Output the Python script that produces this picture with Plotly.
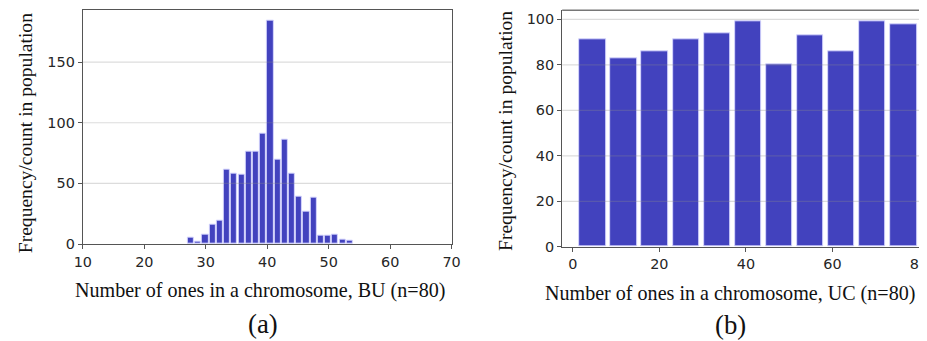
import plotly.graph_objects as go

# ---------------- data ----------------
bu_counts = [5, 2, 8, 16, 19, 61, 58, 57, 76, 76, 91, 184, 70, 86, 58, 39, 27, 38, 7, 7, 8, 4, 3]
bu_min, bu_max = 27, 54          # histogram data range (BU)
uc_counts = [91, 83, 86, 91, 94, 99, 80, 93, 86, 99, 98]
uc_min, uc_max = 1, 80           # histogram data range (UC)

bu_yticks = [0, 50, 100, 150]
bu_xticks = [10, 20, 30, 40, 50, 60, 70]
uc_yticks = [0, 20, 40, 60, 80, 100]
uc_xticks = [0, 20, 40, 60, 80]

ytitle = "Frequency/count in population"
bu_xtitle = "Number of ones in a chromosome, BU (n=80)"
uc_xtitle = "Number of ones in a chromosome, UC (n=80)"

# ---------------- layout helpers ----------------
W, H = 927, 341
# measured mapping of figure pixels to the displayed picture
AX, BX = 0.982, 15.75
AY, BY = 0.958, 13.4
FS = 1.03   # font compensation for that mapping

def px(t):
    return min(1.0, max(0.0, ((t - BX) / AX) / W))
def py(t):
    return min(1.0, max(0.0, (H - (t - BY) / AY) / H))

BAR = "#4242BE"
EDGE = "rgba(215,215,255,0.9)"
SERIF = "Liberation Serif, Times New Roman, serif"
SANS = "DejaVu Sans, sans-serif"
RWIDTH = 0.85

def centers(lo, hi, n):
    bw = (hi - lo) / n
    return [lo + bw * (i + 0.5) for i in range(n)], bw

bu_x, bu_bw = centers(bu_min, bu_max, len(bu_counts))
uc_x, uc_bw = centers(uc_min, uc_max, len(uc_counts))

fig = go.Figure()
fig.add_trace(go.Bar(x=bu_x, y=bu_counts, width=bu_bw * RWIDTH,
                     marker=dict(color=BAR, line=dict(color=EDGE, width=1)),
                     xaxis="x", yaxis="y", showlegend=False, hoverinfo="skip"))
fig.add_trace(go.Bar(x=uc_x, y=uc_counts, width=uc_bw * RWIDTH,
                     marker=dict(color=BAR, line=dict(color=EDGE, width=1)),
                     xaxis="x2", yaxis="y2", showlegend=False, hoverinfo="skip"))

axis_common = dict(showline=True, linecolor="#555555", linewidth=1.3,
                   ticks="outside", ticklen=4, tickwidth=1.2, tickcolor="#555555",
                   tickfont=dict(family=SANS, size=14 * FS, color="#262626"),
                   showgrid=False, zeroline=False, layer="above traces")

# right panel: displayed pixel 572.3 -> 0, 4.335 px per unit
uc_right = (AX * W + BX - 572.3) / 4.335

fig.update_layout(
    width=W, height=H, margin=dict(l=0, r=0, t=0, b=0),
    paper_bgcolor="white", plot_bgcolor="white", bargap=0,
    xaxis=dict(domain=[px(81.7), px(451)], range=[10, 70], tickvals=bu_xticks,
               anchor="y", mirror=True, **axis_common),
    yaxis=dict(domain=[py(245), py(15)], range=[0, 193.2], tickvals=bu_yticks,
               anchor="x", mirror=True, **axis_common),
    xaxis2=dict(domain=[px(561.7), 1.0], range=[-2.45, uc_right], tickvals=uc_xticks,
                anchor="y2", ticklabeloverflow="allow", **axis_common),
    yaxis2=dict(domain=[py(247.7), py(15.7)], range=[0, 103.95], tickvals=uc_yticks,
                anchor="x2", **axis_common),
)

# grid lines drawn above the bars (semi-transparent)
shapes = []
GRID = "rgba(140,140,140,0.3)"
for v in bu_yticks[1:]:
    shapes.append(dict(type="line", xref="x domain", yref="y", x0=0, x1=1, y0=v, y1=v,
                       line=dict(color=GRID, width=1.2), layer="above"))
for v in uc_yticks[1:]:
    shapes.append(dict(type="line", xref="x2 domain", yref="y2", x0=0, x1=1, y0=v, y1=v,
                       line=dict(color=GRID, width=1.2), layer="above"))
# top spine of right panel
shapes.append(dict(type="line", xref="x2 domain", yref="y2 domain", x0=0, x1=1, y0=1, y1=1,
                   line=dict(color="#777777", width=1.5), layer="above"))
fig.update_layout(shapes=shapes)

ann = []
def text(t, x, y, size, angle=0):
    ann.append(dict(text=t, x=px(x), y=py(y), xref="paper", yref="paper",
                    xanchor="center", yanchor="middle", showarrow=False, textangle=angle,
                    font=dict(family=SERIF, size=size * FS, color="#111111")))

text(ytitle, 25, 136, 19, -90)
text(ytitle, 505, 134.5, 19, -90)
text(bu_xtitle, 259, 291, 19.5)
text(uc_xtitle, 730, 293, 19.5)
text("(a)", 262, 323, 26)
text("(b)", 730, 324, 26)
fig.update_layout(annotations=ann)

fig.write_html("out.html", config={"displayModeBar": False})
